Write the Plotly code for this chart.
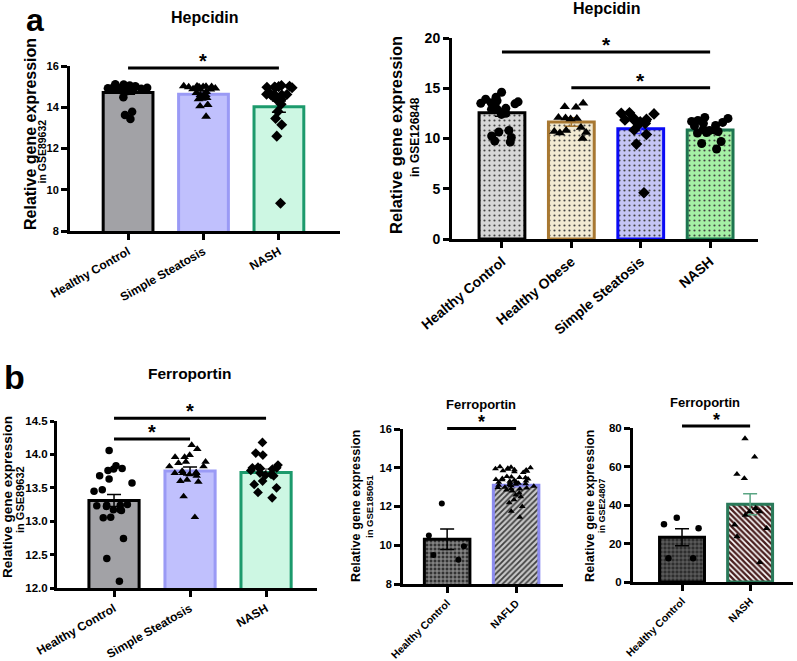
import plotly.graph_objects as go

W, H = 797, 661

# ---------------- DATA ----------------
# Panel a (left): Hepcidin, GSE89632
a1_categories = ["Healthy Control", "Simple Steatosis", "NASH"]
a1_means = [14.72, 14.63, 14.03]
a1_sems = [0.09, 0.08, 0.27]
a1_hc = [15.05, 15.00, 14.95, 15.10, 15.12, 14.90, 14.85, 15.00, 14.95, 14.90, 14.80, 14.88,
         15.02, 14.92, 14.85, 14.98, 14.78, 14.90, 14.95, 14.87, 14.48, 13.78, 13.62, 13.43]
a1_ss = [15.02, 14.98, 15.00, 15.03, 14.97, 15.00, 15.01, 14.99, 14.90, 14.88, 14.92, 14.85,
         14.87, 14.75, 14.70, 14.60, 14.60, 14.45, 14.42, 14.40, 14.47, 14.12, 14.05, 13.55]
a1_nash = [14.98, 15.00, 14.95, 14.97, 15.02, 14.96, 15.05, 14.62, 14.60, 14.65, 14.58, 14.60,
           14.63, 14.38, 14.36, 14.40, 14.15, 13.80, 13.45, 13.15, 12.60, 9.35]

# Panel a (right): Hepcidin, GSE126848
a2_categories = ["Healthy Control", "Healthy Obese", "Simple Steatosis", "NASH"]
a2_means = [12.57, 11.65, 10.98, 10.85]
a2_sems = [0.35, 0.42, 0.48, 0.20]
a2_hc = [14.6, 14.1, 13.9, 13.75, 13.65, 13.55, 13.45, 13.5, 13.35, 13.0, 12.9, 12.85, 12.5,
         12.4, 10.8, 10.65, 10.25, 10.1, 9.75, 9.65]
a2_ho = [13.5, 13.1, 13.15, 12.05, 12.0, 11.95, 12.1, 11.1, 10.7, 10.8, 10.55, 10.6, 10.0]
a2_ss = [12.55, 12.5, 12.45, 12.05, 11.9, 11.85, 11.75, 11.7, 11.65, 11.5, 11.4, 10.85, 10.4,
         9.45, 4.6]
a2_nash = [11.8, 12.0, 12.1, 11.7, 11.5, 11.6, 11.3, 11.25, 10.9, 10.85, 10.8, 10.6, 10.55,
           10.7, 9.7, 9.5, 8.95]

# Panel b (left): Ferroportin, GSE89632
b1_categories = ["Healthy Control", "Simple Steatosis", "NASH"]
b1_means = [13.31, 13.75, 13.73]
b1_sems = [0.09, 0.06, 0.05]
b1_hc = [14.06, 13.83, 13.79, 13.78, 13.76, 13.68, 13.63, 13.57, 13.47, 13.45, 13.25, 13.24,
         13.24, 13.23, 13.22, 13.17, 13.16, 13.17, 13.06, 13.05, 12.74, 12.44, 12.10]
b1_ss = [14.14, 14.08, 13.99, 13.96, 13.96, 13.89, 13.89, 13.87, 13.82, 13.82, 13.75, 13.72,
         13.72, 13.72, 13.73, 13.70, 13.68, 13.62, 13.60, 13.59, 13.37, 13.06]
b1_nash = [14.18, 14.02, 13.99, 13.80, 13.79, 13.81, 13.78, 13.84, 13.80, 13.76, 13.70, 13.69,
           13.68, 13.72, 13.60, 13.55, 13.50, 13.43, 13.35]

# Panel b (middle): Ferroportin, GSE185051
b2_categories = ["Healthy Control", "NAFLD"]
b2_means = [10.31, 13.10]
b2_sems = [0.53, 0.08]
b2_hc = [12.15, 10.5, 9.95, 9.5, 9.25]
b2_nafld = [14.05, 14.00, 13.95, 14.02, 13.90, 13.98, 13.85, 13.88, 13.92, 13.80, 13.75, 13.82,
            13.55, 13.50, 13.48, 13.45, 13.52, 13.40, 13.42, 13.38, 13.35, 13.30, 13.32, 13.28,
            13.25, 13.20, 13.22, 13.18, 13.15, 13.10, 13.12, 13.05, 13.08, 13.00, 12.98, 12.95,
            12.90, 12.92, 12.85, 12.80, 12.70, 12.60, 12.50, 12.35, 12.20, 12.00, 11.75, 11.45]

# Panel b (right): Ferroportin, GSE24807
b3_categories = ["Healthy Control", "NASH"]
b3_means = [23.2, 40.4]
b3_sems = [4.4, 5.4]
b3_hc = [33.4, 30.0, 27.9, 12.4, 12.4]
b3_nash = [74.5, 65.0, 56.0, 53.8, 36.5, 36.5, 38.3, 34.8, 27.9, 29.7, 23.6, 10.2]

# significance brackets: (from category index, to category index, y value of line)
a1_sig = [(0, 2, 15.9)]
a2_sig = [(0, 3, 18.6), (1, 3, 15.05)]
b1_sig = [(0, 2, 14.54), (0, 1, 14.23)]
b2_sig = [(0, 1, 16.03)]
b3_sig = [(0, 1, 81.0)]

FONT = "Liberation Sans, Arial, sans-serif"


def px_x(p):
    return p / W


def px_y(p):
    return 1 - p / H


panels = [
    dict(cats=a1_categories, means=a1_means, sems=a1_sems, pts=[a1_hc, a1_ss, a1_nash],
         sig=a1_sig, syms=["circle", "triangle-up", "diamond"], msize=8.5, starfs=20,
         fills=["#a2a2a6", "#c0c0fd", "#cdf7e3"], borders=["#000000", "#9a9af5", "#1c9a6c"],
         ecols=["#000000", "#8a8ae8", "#000000"], patterns=None,
         xdom=(70, 340), ydom=(66, 231), xrange=(-0.77, 2.81), yrange=(8, 16),
         yticks=[8, 10, 12, 14, 16], tickfs=11, ticklen=6, tickfmt="", xtickfs=12,
         xangle=-30, ytitle="Relative gene expression", ysub="in GSE89632",
         yt=(30, 134, 16), ys=(41.5, 152, 10.5),
         title="Hepcidin", tpos=(205, 17.5, 16)),
    dict(cats=a2_categories, means=a2_means, sems=a2_sems, pts=[a2_hc, a2_ho, a2_ss, a2_nash],
         sig=a2_sig, syms=["circle", "triangle-up", "diamond", "circle"], msize=9, starfs=21,
         fills=["#d6d6d6", "#f2ead2", "#c5c5f5", "#a5f0a5"],
         borders=["#000000", "#a87832", "#0a0af5", "#1d7550"],
         ecols=["#000000", "#a87832", "#4a4aff", "#e8ffe8"],
         patterns=[dict(shape=".", fgcolor="#444444", size=5, solidity=0.15)] * 4,
         xdom=(452, 758), ydom=(38, 239), xrange=(-0.72, 3.69), yrange=(0, 20),
         yticks=[0, 5, 10, 15, 20], tickfs=14, ticklen=6, tickfmt="", xtickfs=14,
         xangle=-40, ytitle="Relative gene expression", ysub="in GSE126848",
         yt=(396, 135, 16.5), ys=(415, 137, 12),
         title="Hepcidin", tpos=(607, 8.5, 16)),
    dict(cats=b1_categories, means=b1_means, sems=b1_sems, pts=[b1_hc, b1_ss, b1_nash],
         sig=b1_sig, syms=["circle", "triangle-up", "diamond"], msize=7.5, starfs=20,
         fills=["#a2a2a6", "#c0c0fd", "#cdf7e3"], borders=["#000000", "#9a9af5", "#1c9a6c"],
         ecols=["#000000", "#000000", "#777777"], patterns=None,
         xdom=(57, 317), ydom=(421, 588), xrange=(-0.75, 2.67), yrange=(12, 14.5),
         yticks=[12.0, 12.5, 13.0, 13.5, 14.0, 14.5], tickfs=11.5, ticklen=4, tickfmt=".1f",
         xtickfs=12, xangle=-30, ytitle="Relative gene expression", ysub="in GSE89632",
         yt=(7, 497, 13.5), ys=(20, 500, 11),
         title="Ferroportin", tpos=(190, 373.5, 15.5)),
    dict(cats=b2_categories, means=b2_means, sems=b2_sems, pts=[b2_hc, b2_nafld],
         sig=b2_sig, syms=["circle", "triangle-up"], msize=6, starfs=18,
         fills=["#333333", "#c8c8c8"], borders=["#000000", "#8c8cf0"],
         ecols=["#000000", "#8c8cf0"],
         patterns=[dict(shape="+", fgcolor="#9a9a9a", size=4, solidity=0.45),
                   dict(shape="/", fgcolor="#404040", size=4, solidity=0.45)],
         xdom=(403, 563), ydom=(429, 584), xrange=(-0.64, 1.68), yrange=(8, 16),
         yticks=[8, 10, 12, 14, 16], tickfs=11, ticklen=6, tickfmt="", xtickfs=10.5,
         xangle=-45, ytitle="Relative gene expression", ysub="in GSE185051",
         yt=(356, 506, 12.7), ys=(369, 506, 9.5),
         title="Ferroportin", tpos=(481, 404, 13)),
    dict(cats=b3_categories, means=b3_means, sems=b3_sems, pts=[b3_hc, b3_nash],
         sig=b3_sig, syms=["circle", "triangle-up"], msize=6.5, starfs=18,
         fills=["#2e2e2e", "#ffffff"], borders=["#000000", "#2a7a5a"],
         ecols=["#000000", "#5aa583"],
         patterns=[dict(shape="+", fgcolor="#7a7a7a", size=4, solidity=0.3),
                   dict(shape="\\", fgcolor="#4a1f1f", size=4, solidity=0.6)],
         xdom=(633, 793), ydom=(428, 582), xrange=(-0.72, 1.63), yrange=(0, 80),
         yticks=[0, 20, 40, 60, 80], tickfs=11.5, ticklen=6, tickfmt="", xtickfs=10.5,
         xangle=-45, ytitle="Relative gene expression", ysub="in GSE24807",
         yt=(590, 506, 12.7), ys=(602, 506, 9),
         title="Ferroportin", tpos=(705, 402.5, 13)),
]

fig = go.Figure()
annotations = []
shapes = []
layout_axes = {}

for k, p in enumerate(panels, start=1):
    xa = "x" if k == 1 else f"x{k}"
    ya = "y" if k == 1 else f"y{k}"
    xkey = "xaxis" if k == 1 else f"xaxis{k}"
    ykey = "yaxis" if k == 1 else f"yaxis{k}"
    n = len(p["cats"])
    for i in range(n):
        marker = dict(color=p["fills"][i], line=dict(color=p["borders"][i], width=3))
        if p["patterns"]:
            pat = dict(p["patterns"][i])
            pat["bgcolor"] = p["fills"][i]
            pat["fillmode"] = "replace"
            marker["pattern"] = pat
        fig.add_trace(go.Bar(
            x=[i], y=[p["means"][i]], width=0.66, marker=marker,
            error_y=dict(type="data", array=[p["sems"][i]], color=p["ecols"][i],
                         thickness=1.5, width=7),
            xaxis=xa, yaxis=ya, showlegend=False))
    for i in range(n):
        vals = p["pts"][i]
        fig.add_trace(go.Box(
            x=[i] * len(vals), y=vals, boxpoints="all", jitter=0.95, pointpos=0,
            width=0.66, fillcolor="rgba(0,0,0,0)",
            line=dict(color="rgba(0,0,0,0)", width=0), whiskerwidth=0,
            marker=dict(symbol=p["syms"][i], size=p["msize"], color="black",
                        line=dict(width=0)),
            xaxis=xa, yaxis=ya, showlegend=False, hoveron="points"))

    r0, r1 = p["yrange"]
    layout_axes[xkey] = dict(
        domain=[px_x(p["xdom"][0]), px_x(p["xdom"][1])], range=list(p["xrange"]),
        anchor=ya, tickmode="array", tickvals=list(range(n)), ticktext=p["cats"],
        tickangle=p["xangle"], showline=True, linecolor="black", linewidth=3,
        ticks="outside", ticklen=6, tickwidth=2.5, tickcolor="black", automargin=False,
        tickfont=dict(family=FONT, size=p["xtickfs"], color="black", weight="bold"),
        showgrid=False, zeroline=False, fixedrange=True)
    layout_axes[ykey] = dict(
        domain=[px_y(p["ydom"][1]), px_y(p["ydom"][0])], range=[r0, r1],
        anchor=xa, tickmode="array", tickvals=p["yticks"], tickformat=p["tickfmt"],
        showline=True, linecolor="black", linewidth=3, automargin=False,
        ticks="outside", ticklen=p["ticklen"], tickwidth=2.5, tickcolor="black",
        tickfont=dict(family=FONT, size=p["tickfs"], color="black", weight="bold"),
        showgrid=False, zeroline=False, fixedrange=True)

    # y-axis titles (main line + dataset line), rotated
    for (txt, (tx, ty, fs)) in ((p["ytitle"], p["yt"]), (p["ysub"], p["ys"])):
        annotations.append(dict(text=txt, xref="paper", yref="paper", x=px_x(tx), y=px_y(ty),
                                xanchor="center", yanchor="middle", textangle=-90,
                                showarrow=False,
                                font=dict(family=FONT, size=fs, color="black", weight="bold")))

    # significance brackets
    for (c0, c1, yv) in p["sig"]:
        yd = (yv - r0) / (r1 - r0)
        shapes.append(dict(type="line", xref=xa, yref=f"{ya} domain", x0=c0, x1=c1,
                           y0=yd, y1=yd, line=dict(color="black", width=3)))
        annotations.append(dict(text="*", xref=xa, yref=f"{ya} domain", x=(c0 + c1) / 2,
                                y=yd, yanchor="bottom", xanchor="center", showarrow=False,
                                font=dict(family=FONT, size=p["starfs"], color="black",
                                          weight="bold"),
                                yshift=-6))

    tx, ty, tfs = p["tpos"]
    annotations.append(dict(text=p["title"], xref="paper", yref="paper", x=px_x(tx),
                            y=px_y(ty), xanchor="center", yanchor="middle",
                            showarrow=False,
                            font=dict(family=FONT, size=tfs, color="black", weight="bold")))

annotations.append(dict(text="a", xref="paper", yref="paper", x=px_x(35), y=px_y(20),
                        xanchor="center", yanchor="middle", showarrow=False,
                        font=dict(family=FONT, size=32, color="black", weight="bold")))
annotations.append(dict(text="b", xref="paper", yref="paper", x=px_x(14), y=px_y(377),
                        xanchor="center", yanchor="middle", showarrow=False,
                        font=dict(family=FONT, size=34, color="black", weight="bold")))

fig.update_layout(
    width=W, height=H, margin=dict(l=0, r=0, t=0, b=0, autoexpand=False),
    paper_bgcolor="white", plot_bgcolor="rgba(0,0,0,0)",
    barmode="overlay", boxmode="overlay", showlegend=False,
    font=dict(family=FONT, color="black"),
    annotations=annotations, shapes=shapes, **layout_axes)

fig.write_html("out.html", config={"displayModeBar": False},
               post_script="document.body.style.margin='0';document.body.style.padding='0';")
